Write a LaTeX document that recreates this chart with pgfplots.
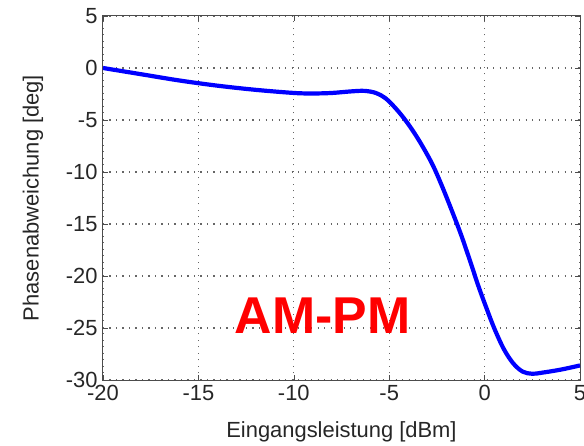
\documentclass[border=0pt]{standalone}
\usepackage{fontspec}
\setmainfont{Liberation Sans}
\usepackage{pgfplots}
\pgfplotsset{compat=1.18}
\begin{document}
\begin{tikzpicture}
\begin{axis}[
  scale only axis,
  width=477bp, height=364bp,
  xmin=-20, xmax=5, ymin=-30, ymax=5,
  xtick={-20,-15,...,5}, ytick={-30,-25,...,5},
  tick align=inside,
  major tick length=5bp,
  tick style={black!70, line width=0.6bp},
  axis line style={black!70, line width=1bp},
  grid=major,
  major grid style={black!60, line width=1.3bp, dash pattern=on 1.3bp off 5.2bp},
  /pgf/number format/assume math mode=true,
  ticklabel style={font=\fontsize{22}{24}\selectfont, text=black!85},
  label style={font=\fontsize{22}{24}\selectfont, text=black!85},
  xlabel={Eingangsleistung [dBm]},
  ylabel={Phasenabweichung [deg]},
  xlabel style={at={(axis description cs:0.5,-0.143)}, anchor=center},
  ylabel style={at={(axis description cs:-0.147,0.5)}, anchor=center},
  xticklabel style={yshift=-2bp},
  yticklabel style={xshift=-2bp},
  clip=true,
]
\addplot[blue, line width=4.2bp, smooth, tension=0.55] coordinates {
(-20,0) (-18,-0.6) (-16,-1.2) (-14,-1.7) (-12,-2.1) (-10,-2.4) (-9,-2.45)
(-8,-2.4) (-7,-2.25) (-6.3,-2.2) (-5.7,-2.4) (-5.2,-2.9) (-4.7,-3.8) (-4.2,-4.9)
(-3.7,-6.2) (-3.2,-7.7) (-2.7,-9.4) (-2.2,-11.5) (-1.7,-13.8) (-1.2,-16.2)
(-0.7,-18.9) (-0.3,-21.1) (0.1,-23.1) (0.5,-25.0) (1,-27.0) (1.5,-28.4) (2,-29.2)
(2.5,-29.4) (3,-29.3) (4,-29.0) (5,-28.6)
};
\node[text=red, font=\fontsize{52}{56}\selectfont\bfseries] at (axis cs:-8.5,-23.8) {AM-PM};
\end{axis}
\pgfresetboundingbox
\useasboundingbox (-103bp,-66bp) rectangle (481bp,380bp);
\end{tikzpicture}
\end{document}
